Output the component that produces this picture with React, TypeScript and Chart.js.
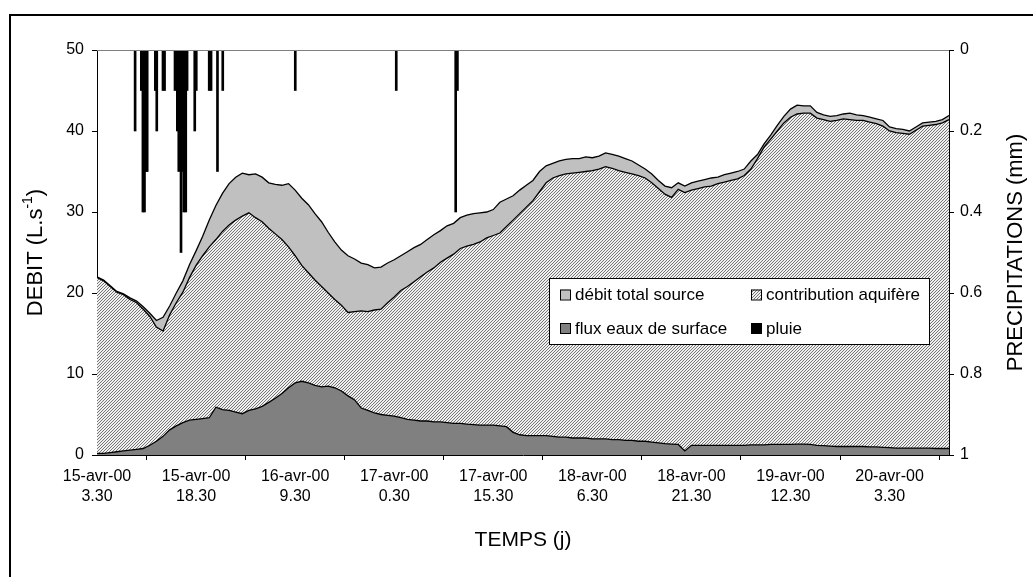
import React, { useEffect, useRef } from 'react';
import { Chart, registerables } from 'chart.js';

Chart.register(...registerables);

const FONT = '"Liberation Sans", Arial, Helvetica, sans-serif';

// Hourly readings from 15-avr-00 3.30 (index 0) to 20-avr-00 12.30 (index 129), L/s
const totalFlow = [
  22.0, 21.6, 20.9, 20.2, 19.9, 19.4, 19.0, 18.3, 17.5, 16.6,
  17.0, 18.4, 20.0, 21.5, 23.5, 25.2, 27.0, 29.0, 30.8, 32.3,
  33.5, 34.3, 34.8, 34.6, 34.7, 34.3, 33.6, 33.4, 33.3, 33.5,
  32.7, 31.7, 30.9, 29.8, 28.8, 27.5, 26.3, 25.3, 24.6, 24.2,
  23.7, 23.5, 23.1, 23.2, 23.7, 24.1, 24.6, 25.1, 25.6, 26.0,
  26.6, 27.2, 27.7, 28.3, 28.6, 29.3, 29.6, 29.8, 29.9, 30.0,
  30.3, 31.2, 31.6, 32.0, 32.7, 33.3, 33.9, 35.0, 35.7, 36.0,
  36.3, 36.5, 36.6, 36.6, 36.8, 36.7, 36.9, 37.3, 37.1, 36.9,
  36.6, 36.3, 35.8, 35.3, 34.7, 33.9, 33.2, 33.0, 33.6, 33.2,
  33.6, 33.8, 34.0, 34.2, 34.3, 34.6, 34.8, 35.0, 35.3, 36.3,
  37.1, 38.4, 39.5, 40.7, 41.8, 42.7, 43.2, 43.1, 43.1, 42.3,
  42.0, 41.8, 41.9, 42.1, 42.2, 42.0, 41.9, 41.7, 41.5, 41.3,
  40.5, 40.3, 40.2, 40.0, 40.5, 41.0, 41.1, 41.2, 41.4, 41.9,
];

const aquiferFlow = [
  21.9, 21.5, 20.8, 20.1, 19.8, 19.2, 18.8, 18.0, 17.1, 15.8,
  15.3, 17.3, 18.8, 20.1, 21.9, 23.4, 24.6, 25.7, 26.6, 27.6,
  28.4, 29.0, 29.5, 29.9, 29.3, 28.8, 28.0, 27.3, 26.6, 25.7,
  24.6, 23.4, 22.5, 21.6, 20.8, 20.0, 19.2, 18.5, 17.6, 17.7,
  17.8, 17.7, 17.9, 18.0, 18.8, 19.5, 20.3, 20.8, 21.4, 22.0,
  22.6, 23.1, 23.8, 24.3, 24.8, 25.5, 25.8, 26.0, 26.3, 26.8,
  27.1, 27.4, 28.2, 29.0, 29.8, 30.6, 31.4, 32.5, 33.6, 34.2,
  34.5, 34.7, 34.8, 34.9, 35.0, 35.1, 35.3, 35.6, 35.4, 35.1,
  34.9, 34.7, 34.5, 34.2, 33.6, 32.9, 32.2, 31.8, 32.8, 32.4,
  32.7, 32.9, 33.1, 33.2, 33.5, 33.7, 33.9, 34.1, 34.5, 35.3,
  36.6, 38.0, 39.0, 40.0, 41.0, 41.7, 42.1, 42.2, 42.2, 41.6,
  41.4, 41.2, 41.3, 41.5, 41.4, 41.3, 41.3, 41.1, 40.9, 40.6,
  40.0, 39.8, 39.7, 39.6, 40.1, 40.6, 40.7, 40.8, 41.0, 41.4,
];

const surfaceFlow = [
  0.2, 0.2, 0.3, 0.4, 0.5, 0.6, 0.7, 0.8, 1.2, 1.7,
  2.3, 3.1, 3.6, 4.0, 4.3, 4.4, 4.5, 4.6, 5.9, 5.6,
  5.5, 5.3, 5.1, 5.5, 5.7, 6.0, 6.5, 7.0, 7.6, 8.3,
  8.9, 9.1, 8.9, 8.6, 8.4, 8.5, 8.3, 7.9, 7.3, 6.8,
  5.8, 5.5, 5.2, 5.0, 4.9, 4.8, 4.6, 4.4, 4.3, 4.2,
  4.2, 4.1, 4.1, 4.0, 3.9, 3.9, 3.8, 3.75, 3.7, 3.7,
  3.7, 3.6, 3.5, 2.8, 2.5, 2.4, 2.4, 2.4, 2.4, 2.3,
  2.2, 2.2, 2.1, 2.1, 2.1, 2.0, 2.0, 2.0, 1.9, 1.9,
  1.8, 1.8, 1.7, 1.7, 1.6, 1.5, 1.4, 1.35, 1.3, 0.5,
  1.2, 1.2, 1.2, 1.2, 1.2, 1.2, 1.2, 1.2, 1.2, 1.25,
  1.25, 1.25, 1.3, 1.3, 1.3, 1.3, 1.35, 1.35, 1.3, 1.2,
  1.15, 1.1, 1.05, 1.05, 1.05, 1.05, 1.05, 1.0, 1.0, 0.95,
  0.9, 0.85, 0.85, 0.85, 0.85, 0.85, 0.85, 0.8, 0.8, 0.8,
];

// Rain events: time (hours after 15-avr-00 3.30) and depth (mm)
const rainHours = [
  5.77, 6.71, 6.95, 7.19, 7.43, 7.6, 8.83, 9.05, 9.99, 10.23,
  11.81, 12.16, 12.38, 12.72, 12.91, 13.14, 13.44, 13.64, 14.8, 15.03,
  16.99, 17.27, 18.24, 19.04, 30.02, 45.31, 54.31, 54.57,
];
const rainMm = [
  0.2, 0.1, 0.4, 0.4, 0.3, 0.3, 0.1, 0.2, 0.1, 0.1,
  0.1, 0.2, 0.3, 0.5, 0.3, 0.4, 0.4, 0.1, 0.2, 0.1,
  0.1, 0.1, 0.3, 0.1, 0.1, 0.1, 0.4, 0.1,
];

const xTickHours = [0, 15, 30, 45, 60, 75, 90, 105, 120];
const xTickDates = ['15-avr-00', '15-avr-00', '16-avr-00', '17-avr-00', '17-avr-00', '18-avr-00', '18-avr-00', '19-avr-00', '20-avr-00'];
const xTickTimes = ['3.30', '18.30', '9.30', '0.30', '15.30', '6.30', '21.30', '12.30', '3.30'];
const leftTickValues = [0, 10, 20, 30, 40, 50];
const rightTickValues = [0, 0.2, 0.4, 0.6, 0.8, 1];
const rightTickLabels = ['0', '0.2', '0.4', '0.6', '0.8', '1'];
const seriesLabels = ['débit total source', 'contribution aquifère', 'flux eaux de surface', 'pluie'];

function makeHatch(): CanvasPattern | string {
  const c = document.createElement('canvas');
  c.width = 3;
  c.height = 3;
  const g = c.getContext('2d');
  if (!g) return '#c8c8c8';
  g.fillStyle = '#f0f0f0';
  g.fillRect(0, 0, 3, 3);
  g.fillStyle = '#767676';
  for (let x = 0; x < 3; x++) {
    for (let y = 0; y < 3; y++) {
      if ((x + y) % 3 === 2) g.fillRect(x, y, 1, 1);
    }
  }
  const p = g.createPattern(c, 'repeat');
  return p || '#c8c8c8';
}

export default function App() {
  const ref = useRef<HTMLCanvasElement>(null);

  useEffect(() => {
    const canvas = ref.current;
    if (!canvas) return;
    const hatch = makeHatch();
    const hours = totalFlow.map((_, i) => i);
    const pts = (arr: number[]) => arr.map((v, i) => ({ x: hours[i], y: v }));

    const decor = {
      id: 'decor',
      afterDraw(chart: any) {
        const ctx: CanvasRenderingContext2D = chart.ctx;
        const a = chart.chartArea;
        ctx.save();
        // outer frame (cropped on right and bottom)
        ctx.fillStyle = '#000';
        ctx.fillRect(9, 14, 1100, 2);
        ctx.fillRect(9, 14, 2, 700);
        // plot area top edge
        ctx.strokeStyle = '#808080';
        ctx.lineWidth = 1;
        ctx.beginPath();
        ctx.moveTo(a.left, Math.round(a.top) + 0.5);
        ctx.lineTo(a.right, Math.round(a.top) + 0.5);
        ctx.stroke();

        // titles
        ctx.fillStyle = '#000';
        ctx.textBaseline = 'middle';
        ctx.textAlign = 'center';
        ctx.font = `21px ${FONT}`;
        ctx.fillText('TEMPS (j)', (a.left + a.right) / 2, 540);

        // left title with superscript
        ctx.save();
        ctx.translate(36, (a.top + a.bottom) / 2);
        ctx.rotate(-Math.PI / 2);
        ctx.textAlign = 'left';
        const big = `22px ${FONT}`;
        const small = `14px ${FONT}`;
        const p1 = 'DEBIT (L.s';
        const p2 = '-1';
        const p3 = ')';
        ctx.font = big;
        const w1 = ctx.measureText(p1).width;
        const w3 = ctx.measureText(p3).width;
        ctx.font = small;
        const w2 = ctx.measureText(p2).width;
        let x0 = -(w1 + w2 + w3) / 2;
        ctx.font = big;
        ctx.fillText(p1, x0, 0);
        x0 += w1;
        ctx.font = small;
        ctx.fillText(p2, x0, -8);
        x0 += w2;
        ctx.font = big;
        ctx.fillText(p3, x0, 0);
        ctx.restore();

        // right title
        ctx.save();
        ctx.translate(1016, (a.top + a.bottom) / 2);
        ctx.rotate(-Math.PI / 2);
        ctx.textAlign = 'center';
        ctx.font = `22px ${FONT}`;
        ctx.fillText('PRECIPITATIONS (mm)', 0, 0);
        ctx.restore();

        // legend
        const lx = 549.5, ly = 278.5, lw = 380, lh = 66;
        ctx.fillStyle = '#fff';
        ctx.fillRect(lx, ly, lw, lh);
        ctx.strokeStyle = '#000';
        ctx.lineWidth = 1;
        ctx.strokeRect(lx, ly, lw, lh);
        const fills: any[] = ['#c0c0c0', hatch, '#808080', '#000'];
        const pos = [
          [560, 294.5],
          [751, 294.5],
          [560, 328],
          [751, 328],
        ];
        ctx.font = `17px ${FONT}`;
        ctx.textAlign = 'left';
        ctx.textBaseline = 'middle';
        for (let i = 0; i < 4; i++) {
          const [sx, sy] = pos[i];
          ctx.fillStyle = fills[i];
          ctx.fillRect(sx, sy - 5, 10, 10);
          ctx.strokeStyle = '#000';
          ctx.strokeRect(sx + 0.5, sy - 5 + 0.5, 10, 10);
          ctx.fillStyle = '#000';
          ctx.fillText(chart.data.datasets[i].label, sx + 15, sy + 1);
        }
        ctx.restore();
      },
    };

    const tickFont = { family: FONT, size: 16, lineHeight: 1.25 };

    const chart = new Chart(canvas, {
      type: 'line',
      data: {
        datasets: [
          {
            type: 'line',
            label: seriesLabels[0],
            data: pts(totalFlow),
            borderColor: '#000',
            borderWidth: 1.3,
            backgroundColor: '#c0c0c0',
            fill: 'origin',
            pointRadius: 0,
            tension: 0,
            order: 4,
            yAxisID: 'y',
          },
          {
            type: 'line',
            label: seriesLabels[1],
            data: pts(aquiferFlow),
            borderColor: '#000',
            borderWidth: 1.3,
            backgroundColor: hatch as any,
            fill: 'origin',
            pointRadius: 0,
            tension: 0,
            order: 3,
            yAxisID: 'y',
          },
          {
            type: 'line',
            label: seriesLabels[2],
            data: pts(surfaceFlow),
            borderColor: '#000',
            borderWidth: 1.3,
            backgroundColor: '#808080',
            fill: 'origin',
            pointRadius: 0,
            tension: 0,
            order: 2,
            yAxisID: 'y',
          },
          {
            type: 'bar',
            label: seriesLabels[3],
            data: rainHours.map((h, i) => ({ x: h, y: rainMm[i] })),
            backgroundColor: '#000',
            borderWidth: 0,
            barThickness: 2,
            order: 1,
            yAxisID: 'y2',
          } as any,
        ],
      },
      options: {
        responsive: false,
        animation: false,
        events: [],
        layout: { padding: { top: 50, left: 0, right: 0, bottom: 0 } },
        plugins: {
          legend: { display: false },
          tooltip: { enabled: false },
          title: { display: false },
        },
        scales: {
          x: {
            type: 'linear',
            min: 0,
            max: 129,
            offset: false,
            afterBuildTicks: (s: any) => {
              s.ticks = xTickHours.map((v) => ({ value: v }));
            },
            afterFit: (s: any) => {
              s.height = 122;
            },
            ticks: {
              autoSkip: false,
              maxRotation: 0,
              minRotation: 0,
              padding: 7,
              color: '#000',
              font: tickFont,
              callback: (_v: any, i: number) => [xTickDates[i], xTickTimes[i]],
            },
            grid: { drawOnChartArea: false, drawTicks: true, tickLength: 5, color: '#000' },
            border: { display: true, color: '#000', width: 1 },
          },
          y: {
            type: 'linear',
            position: 'left',
            min: 0,
            max: 50,
            afterBuildTicks: (s: any) => {
              s.ticks = leftTickValues.map((v) => ({ value: v }));
            },
            afterFit: (s: any) => {
              s.width = 97;
            },
            ticks: { padding: 8, color: '#000', font: tickFont },
            grid: { drawOnChartArea: false, drawTicks: true, tickLength: 5, color: '#000' },
            border: { display: true, color: '#000', width: 1 },
          },
          y2: {
            type: 'linear',
            position: 'right',
            min: 0,
            max: 1,
            reverse: true,
            afterBuildTicks: (s: any) => {
              s.ticks = rightTickValues.map((v) => ({ value: v }));
            },
            afterFit: (s: any) => {
              s.width = 84;
            },
            ticks: {
              padding: 6,
              color: '#000',
              font: tickFont,
              callback: (_v: any, i: number) => rightTickLabels[i],
            },
            grid: { drawOnChartArea: false, drawTicks: true, tickLength: 5, color: '#000' },
            border: { display: true, color: '#000', width: 1 },
          },
        },
      } as any,
      plugins: [decor],
    });

    return () => chart.destroy();
  }, []);

  return (
    <div
      style={{
        position: 'absolute',
        left: 0,
        top: 0,
        width: 1033,
        height: 577,
        overflow: 'hidden',
        background: '#fff',
      }}
    >
      <canvas ref={ref} width={1033} height={577} style={{ display: 'block', width: 1033, height: 577 }} />
    </div>
  );
}
